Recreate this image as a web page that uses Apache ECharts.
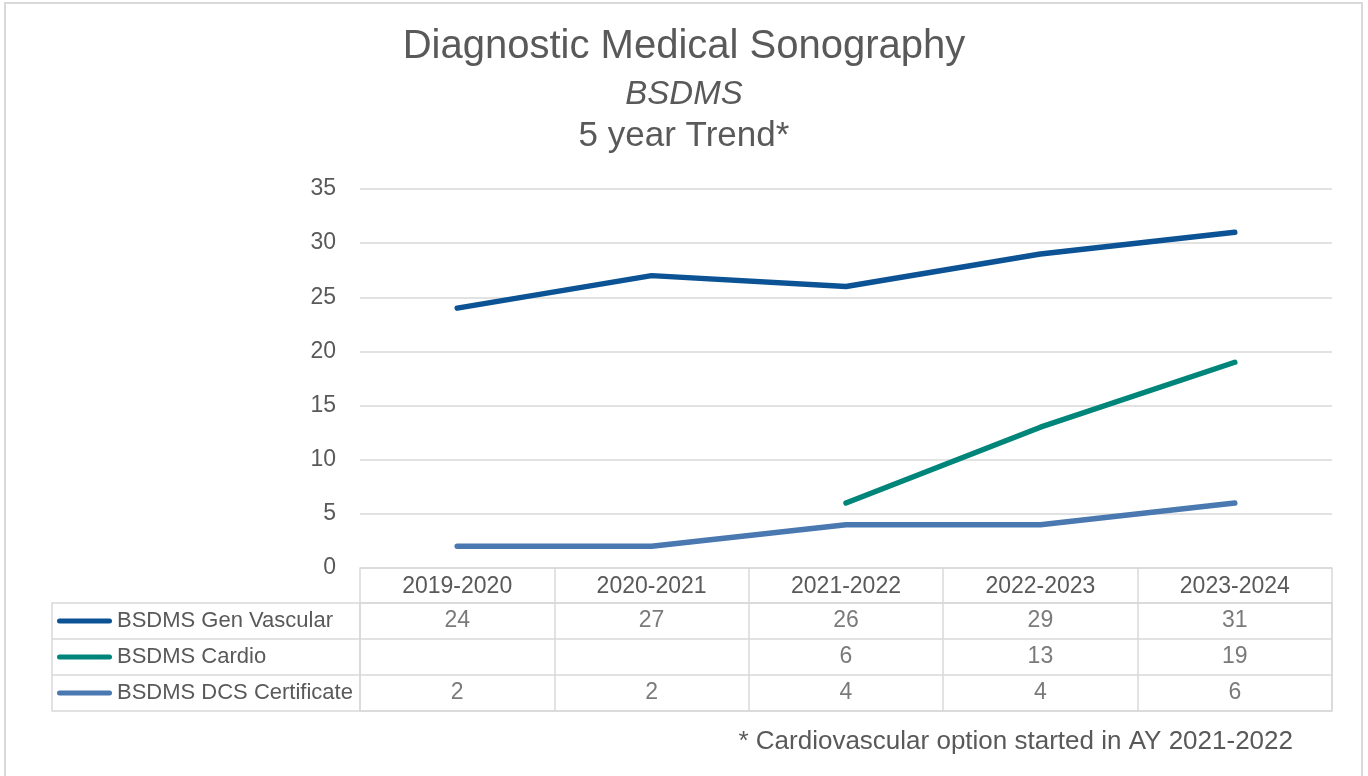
<!DOCTYPE html>
<html>
<head>
<meta charset="utf-8">
<script src="https://cdn.jsdelivr.net/npm/echarts@6/dist/echarts.min.js"></script>
<style>html,body{margin:0;padding:0;background:#fff;}#c{width:1368px;height:776px;}</style>
</head>
<body>
<div id="c"></div>
<script>
var categories = ['2019-2020', '2020-2021', '2021-2022', '2022-2023', '2023-2024'];
var seriesNames = ['BSDMS Gen Vascular', 'BSDMS Cardio', 'BSDMS DCS Certificate'];
var genVascular = [24, 27, 26, 29, 31];
var cardio = [null, null, 6, 13, 19];
var dcsCertificate = [2, 2, 4, 4, 6];
var titleText = 'Diagnostic Medical Sonography';
var subtitleText = 'BSDMS';
var trendText = '5 year Trend*';
var footnoteText = '* Cardiovascular option started in AY 2021-2022';

var colors = ['#0B5394', '#00857A', '#4A78B0'];
var seriesValues = [genVascular, cardio, dcsCertificate];
var textColor = '#595959';
var gridColor = '#D9D9D9';
var fontFamily = '"Liberation Sans", Arial, sans-serif';

var cells = [];
seriesValues.forEach(function (arr, s) {
  arr.forEach(function (v, i) {
    if (v !== null) cells.push([i, s, v]);
  });
});

var rich = { t: { fontSize: 22, color: textColor, fontFamily: fontFamily, padding: [0, 0, 0, 5], verticalAlign: 'middle' } };
colors.forEach(function (c, i) {
  rich['l' + i] = { width: 55, height: 5, backgroundColor: c, borderRadius: 3, verticalAlign: 'middle' };
});

var chart = echarts.init(document.getElementById('c'));
chart.setOption({
  backgroundColor: '#fff',
  animation: false,
  textStyle: { fontFamily: fontFamily },
  title: [
    { text: titleText, left: 'center', top: 27, padding: 0, textStyle: { fontSize: 40, fontWeight: 'normal', color: textColor, fontFamily: fontFamily } },
    { text: subtitleText, left: 'center', top: 78, padding: 0, textStyle: { fontSize: 33, fontWeight: 'normal', fontStyle: 'italic', color: textColor, fontFamily: fontFamily } },
    { text: trendText, left: 'center', top: 119, padding: 0, textStyle: { fontSize: 35, fontWeight: 'normal', color: textColor, fontFamily: fontFamily } }
  ],
  graphic: [
    { type: 'rect', shape: { x: 5, y: 3, width: 1357, height: 790 }, style: { fill: 'none', stroke: gridColor, lineWidth: 2 }, silent: true, z: -1 },
    { type: 'text', right: 75, top: 729, style: { text: footnoteText, fontSize: 26, fill: textColor, fontFamily: fontFamily }, silent: true }
  ],
  grid: [
    { left: 360, top: 189, width: 972, height: 379 },
    { left: 360, top: 603, width: 972, height: 108, show: true, borderColor: gridColor, borderWidth: 1.5, backgroundColor: 'transparent' }
  ],
  xAxis: [
    {
      type: 'category', gridIndex: 0, data: categories, boundaryGap: true,
      axisLine: { show: true, lineStyle: { color: gridColor, width: 1.5 } },
      axisTick: { show: true, length: 35, alignWithLabel: false, lineStyle: { color: gridColor, width: 1.5 } },
      axisLabel: { fontSize: 23, color: textColor, margin: 7, lineHeight: 23, fontFamily: fontFamily },
      splitLine: { show: false }
    },
    {
      type: 'category', gridIndex: 1, data: categories, boundaryGap: true,
      axisLine: { show: false }, axisTick: { show: false }, axisLabel: { show: false },
      splitLine: { show: true, lineStyle: { color: gridColor, width: 1.5 } }
    }
  ],
  yAxis: [
    {
      type: 'value', gridIndex: 0, min: 0, max: 35, interval: 5,
      axisLine: { show: false }, axisTick: { show: false },
      axisLabel: { fontSize: 23, color: textColor, margin: 24, fontFamily: fontFamily },
      splitLine: { show: true, lineStyle: { color: gridColor, width: 1.5 } }
    },
    {
      type: 'category', gridIndex: 1, data: seriesNames, inverse: true, boundaryGap: true,
      axisLine: { show: false },
      axisTick: { show: true, length: 308, alignWithLabel: false, lineStyle: { color: gridColor, width: 1.5 } },
      axisLabel: {
        align: 'left', margin: 303,
        formatter: function (v, i) { return '{l' + i + '|}{t|' + v + '}'; },
        rich: rich
      },
      splitLine: { show: true, lineStyle: { color: gridColor, width: 1.5 } }
    },
    {
      type: 'value', gridIndex: 1, position: 'left', offset: 308, min: 0, max: 1,
      axisLine: { show: true, lineStyle: { color: gridColor, width: 1.5 } },
      axisTick: { show: false }, axisLabel: { show: false }, splitLine: { show: false }
    }
  ],
  series: seriesNames.map(function (name, s) {
    return {
      name: name, type: 'line', xAxisIndex: 0, yAxisIndex: 0,
      data: seriesValues[s], showSymbol: false, symbol: 'none', connectNulls: false,
      lineStyle: { color: colors[s], width: 5.5, cap: 'round', join: 'round' },
      itemStyle: { color: colors[s] }, silent: true
    };
  }).concat([{
    type: 'scatter', xAxisIndex: 1, yAxisIndex: 1, data: cells, symbolSize: 1,
    itemStyle: { color: 'rgba(0,0,0,0)' }, silent: true,
    encode: { x: 0, y: 1 },
    label: { show: true, position: 'inside', formatter: function (p) { return p.value[2]; }, fontSize: 23, color: textColor, fontFamily: fontFamily }
  }])
});
</script>
</body>
</html>
